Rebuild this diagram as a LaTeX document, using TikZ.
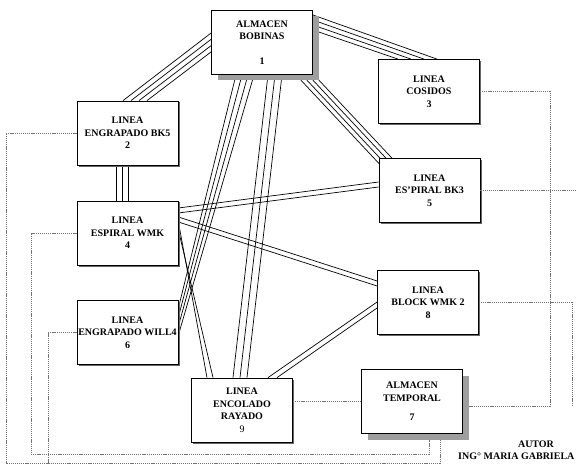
\documentclass[tikz,border=0pt]{standalone}
\usepackage{fontspec}
\setmainfont{Liberation Serif}
\usetikzlibrary{calc,backgrounds}

\tikzset{
  box/.style={draw, line width=0.8pt, fill=white, minimum width=101pt,
    minimum height=64pt, inner xsep=0pt, align=center,
    font=\bfseries\fontsize{10}{12.5}\selectfont},
  wire/.style={line width=0.7pt},
  link/.style={black!55, line width=0.45pt, dash pattern=on 1.2pt off 0.9pt},
  thinshade/.style={fill=black!60},
  heavyshade/.style={fill=black!38},
}

% n parallel strokes: start, start step, end, end step
\newcommand{\bundle}[5]{%
  \foreach \k in {1,...,#1}{\draw[wire] ($#2+{\k-1}*#3$) -- ($#4+{\k-1}*#5$);}}

\begin{document}
\begin{tikzpicture}[x=1pt, y=-1pt]
  \useasboundingbox (0,0) rectangle (576,465);
  % --- shadows (drawn first, boxes on top) ---
  \fill[heavyshade] (217.5,16) rectangle (318.5,80.5);
  \fill[heavyshade] (367.5,375.5) rectangle (468.5,439.5);
  \foreach \cx/\cy in {127.5/133, 429/91.5, 127.5/233, 429.5/190.5,
      127.5/332.5, 428/302.5, 242/410}
    \fill[thinshade] (\cx-49,\cy-30.5) rectangle (\cx+52.3,\cy+33.6);
  % --- boxes ---
  \node[box] (n1) at (262,42.5) {ALMACEN\\BOBINAS\\[12pt]1};
  \node[box] (n2) at (127.5,133) {LINEA\\ENGRAPADO BK5\\2};
  \node[box] (n3) at (429,91.5) {LINEA\\COSIDOS\\3};
  \node[box] (n4) at (127.5,233) {LINEA\\ESPIRAL WMK\\4};
  \node[box] (n5) at (429.5,190.5) {LINEA\\ES’PIRAL BK3\\5};
  \node[box] (n6) at (127.5,332.5) {LINEA\\ENGRAPADO WILL4\\6};
  \node[box] (n7) at (412,401.5) {ALMACEN\\TEMPORAL\\[7pt]7};
  \node[box] (n8) at (428,302.5) {LINEA\\BLOCK WMK 2\\8};
  \node[box] (n9) at (242,410) {LINEA\\ENCOLADO\\RAYADO\\{\mdseries 9}};

  % --- solid links, under everything ---
  \begin{scope}[on background layer]
    \fill[white] (0,0) rectangle (576,465);
    \bundle{4}{(n1.west)+(0,-9.5)}{(0,6.3)}{(n2.north)+(-4.5,0)}{(8,0)}
    \bundle{4}{(n1.east)+(0,-27.5)}{(0,5)}{(n3.north)+(8,0)}{(-13,0)}
    \bundle{4}{(n1.south)+(34,0)}{(6,0)}{(n5.center)+(-43.5,-19.5)}{(6,0)}
    \bundle{4}{(n1.south)+(-26,0)}{(6,0)}{(n6.east)+(0,-24.5)}{(0,9)}
    \bundle{3}{(n1.south)+(6,0)}{(7,0)}{(n9.north)+(-9,0)}{(7,0)}
    \bundle{3}{(n2.south)+(-11.5,0)}{(6,0)}{(n4.north)+(-11.5,0)}{(6,0)}
    \bundle{2}{(n4.east)+(0,-25)}{(0,5)}{(n5.west)+(0,-8.5)}{(0,5)}
    \bundle{2}{(n4.east)+(0,-16)}{(0,5)}{(n8.west)+(0,-21.5)}{(0,5)}
    \bundle{2}{(n4.east)+(0,-11)}{(0,8)}{(n9.north)+(-35,0)}{(6,0)}
    \bundle{2}{(n8.west)+(0,-0.5)}{(0,6)}{(n9.north)+(26,0)}{(9,0)}
  \end{scope}

  % --- dotted links ---
  \draw[link] (n2.west) -| (6,463) -| ($(n7.south)+(28,6)$);
  \draw[link] (n4.west) -| (31,454) -| ($(n7.south)+(17,6)$);
  \draw[link] (n6.west) -| (48,463);
  \draw[link] (n7.west -| n9.east) -- (n7.west);
  \draw[link] (n3.east) -| (550,406) -- ($(n7.east)+(6,4.5)$);
  \draw[link] (n8.east) -| (572,406);
  \draw[link] (n5.east) -- (580,190.5);

  % --- author ---
  \node[font=\bfseries\fontsize{10}{12}\selectfont] (autor) at (536,444) {AUTOR};
  \node[font=\bfseries\fontsize{10}{12}\selectfont, anchor=west, inner sep=0pt]
    (ing) at (458,456) {ING° MARIA GABRIELA};
\end{tikzpicture}
\end{document}
